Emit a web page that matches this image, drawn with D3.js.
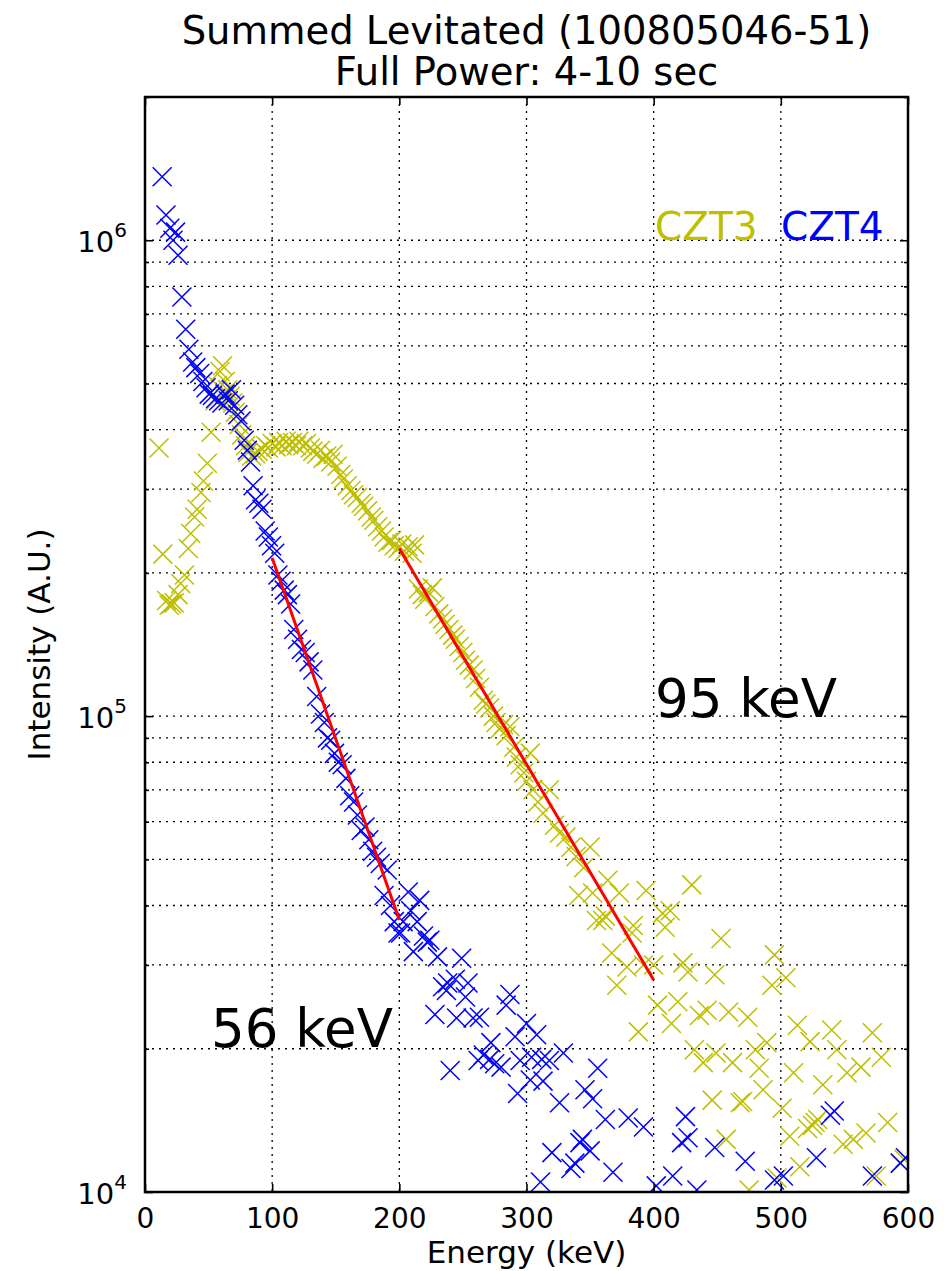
<!DOCTYPE html>
<html>
<head>
<meta charset="utf-8">
<script src="https://cdn.jsdelivr.net/npm/d3@7"></script>
<style>
  body { margin: 0; background: #fff; }
  text { font-family: "DejaVu Sans", sans-serif; }
</style>
</head>
<body>
<svg id="chart" width="944" height="1271"></svg>
<script>
// summed levitated spectra, CZT3 and CZT4, with exponential fits

// [energy keV, intensity]
var czt3 = [
  [11,3.66e5],[14,2.19e5],[17,1.75e5],[19,1.71e5],[21,1.72e5],[23,1.73e5],[26,1.80e5],[28,1.90e5],
  [31,1.98e5],[34,2.25e5],[36,2.42e5],[39,2.62e5],[41,2.72e5],[44,2.95e5],[46,3.12e5],[49,3.40e5],
  [52,3.95e5],[55,4.60e5],[57,4.95e5],[59,5.30e5],[61,5.45e5],[63,5.05e5],[65,4.85e5],[67,4.70e5],
  [69,4.55e5],[71,4.35e5],[74,4.10e5],[76,3.90e5],[79,3.70e5],[81,3.58e5],[84,3.52e5],[87,3.56e5],
  [89,3.60e5],[92,3.64e5],[95,3.70e5],[97,3.66e5],[100,3.74e5],[103,3.68e5],[105,3.76e5],[108,3.70e5],
  [111,3.78e5],[113,3.72e5],[116,3.76e5],[119,3.70e5],[121,3.78e5],[124,3.70e5],[127,3.74e5],[130,3.66e5],
  [132,3.60e5],[135,3.55e5],[138,3.62e5],[140,3.48e5],[143,3.52e5],[146,3.42e5],[148,3.55e5],[151,3.35e5],
  [154,3.22e5],[156,3.15e5],[159,3.05e5],[162,2.98e5],[164,2.92e5],[167,2.88e5],[170,2.80e5],[172,2.76e5],
  [175,2.70e5],[178,2.62e5],[180,2.58e5],[183,2.50e5],[186,2.45e5],[188,2.38e5],[191,2.32e5],[194,2.34e5],
  [196,2.28e5],[199,2.25e5],[202,2.30e5],[204,2.22e5],[207,2.27e5],[210,2.20e5],[212,2.29e5],
  [215,1.85e5],[218,1.80e5],[220,1.76e5],[223,1.82e5],[226,1.86e5],[228,1.70e5],[231,1.64e5],[234,1.60e5],
  [236,1.56e5],[239,1.52e5],[242,1.48e5],[244,1.45e5],[247,1.40e5],[250,1.36e5],[252,1.31e5],[255,1.28e5],
  [258,1.25e5],[260,1.20e5],[263,1.15e5],[266,1.08e5],[268,1.06e5],[271,1.04e5],[274,1.00e5],[276,9.7e4],
  [279,9.4e4],[282,9.6e4],[284,9.1e4],[287,9.5e4],[290,8.6e4],[292,8.2e4],[295,7.9e4],[298,7.6e4],
  [300,7.3e4],[303,8.36e4],[305,7.0e4],[309,6.6e4],[313,6.25e4],[318,7.0e4],[322,5.9e4],[326,5.68e4],
  [331,5.57e4],[335,5.3e4],[339,5.07e4],[341,4.2e4],[345,4.8e4],[350,5.31e4],[352,4.25e4],[355,3.72e4],
  [360,3.72e4],[362,3.8e4],[364,4.52e4],[367,3.18e4],[371,2.72e4],[373,4.25e4],[379,2.97e4],[383,3.5e4],
  [384,3.63e4],[388,2.17e4],[392,3.0e4],[394,4.3e4],[400,3.0e4],[403,2.47e4],[407,3.85e4],[409,3.6e4],
  [413,3.9e4],[414,2.26e4],[419,2.51e4],[423,3.03e4],[427,2.9e4],[430,4.42e4],[432,1.99e4],[436,2.35e4],
  [439,1.87e4],[442,2.41e4],[446,1.56e4],[448,2.86e4],[449,1.96e4],[453,3.41e4],[457,1.29e4],[459,2.39e4],
  [462,1.87e4],[468,1.54e4],[470,1.55e4],[474,2.33e4],[475,1.01e4],[480,1.99e4],[483,1.82e4],[486,1.64e4],
  [489,2.06e4],[493,2.72e4],[495,3.15e4],[497,1.07e4],[501,1.5e4],[504,2.82e4],[507,1.31e4],[510,1.78e4],
  [513,2.24e4],[515,1.13e4],[521,1.36e4],[523,2.07e4],[525,1.38e4],[527,1.4e4],[529,1.42e4],[533,1.68e4],
  [540,2.19e4],[544,1.99e4],[549,1.26e4],[552,1.78e4],[557,1.29e4],[563,1.83e4],[567,1.33e4],[572,2.16e4],
  [575,1.08e4],[579,1.92e4],[584,1.4e4],[594,1.15e4],[597,1.17e4]
];

var czt4 = [
  [13.5,1.36e6],[16.5,1.13e6],[19.5,1.06e6],[22,1.0e6],[24,1.04e6],[26,9.3e5],[29,7.6e5],[32,6.5e5],
  [34.5,5.9e5],[37.5,5.55e5],[40,5.4e5],[43,5.25e5],[45.5,5.05e5],[48,4.9e5],[50.5,4.75e5],[53,4.72e5],
  [55.5,4.65e5],[58,4.6e5],[60.5,4.55e5],[63,4.75e5],[65.5,4.6e5],[68,4.85e5],[70.5,4.5e5],[73,4.3e5],
  [75.5,4.17e5],[78,3.8e5],[80.5,3.62e5],[83,3.42e5],[85,3.05e5],[87,2.85e5],[89.5,2.8e5],[92,2.72e5],
  [94.5,2.45e5],[97,2.38e5],[99.5,2.28e5],[102,2.2e5],[104.5,1.98e5],[107,1.92e5],[109.5,1.84e5],[112,1.8e5],
  [114.5,1.72e5],[117,1.52e5],[120,1.45e5],[123,1.38e5],[126,1.36e5],[129,1.3e5],[132,1.25e5],[135,1.1e5],
  [138,1.01e5],[141,9.7e4],[143.5,9.0e4],[146,8.9e4],[149,8.35e4],[152,8.0e4],[155,7.9e4],[158,7.4e4],
  [161,6.8e4],[164,6.6e4],[167,6.2e4],[170,5.75e4],[173,5.85e4],[176,5.5e4],[179,5.2e4],[182,5.05e4],
  [185,4.9e4],[188,4.2e4],[190.5,4.75e4],[193,4.0e4],[196,3.7e4],[199,3.5e4],[201,3.5e4],[203,3.7e4],
  [207,4.27e4],[209,3.9e4],[211,3.2e4],[214,3.7e4],[216,4.1e4],[219,3.45e4],[222,3.35e4],[224,3.38e4],
  [228,2.36e4],[230,3.12e4],[234,2.7e4],[237,2.65e4],[238,2.75e4],[240,1.8e4],[244,2.8e4],[245,2.32e4],
  [249,3.1e4],[252,2.57e4],[254,2.75e4],[258,2.32e4],[262,1.89e4],[263,2.33e4],[266,1.94e4],[271,1.9e4],
  [272,2.06e4],[275,1.86e4],[280,1.83e4],[284,2.47e4],[287,2.6e4],[291,2.12e4],[293,1.61e4],[295,1.89e4],
  [300,2.26e4],[303,1.72e4],[304,1.92e4],[308,2.14e4],[311,1.05e4],[312,1.9e4],[313,1.71e4],[318,1.89e4],
  [320,1.21e4],[326,1.54e4],[329,1.96e4],[335,1.12e4],[338,1.15e4],[342,1.27e4],[344,1.29e4],[346,1.64e4],
  [350,1.22e4],[352,1.57e4],[356,1.82e4],[362,1.42e4],[368,1.1e4],[380,1.43e4],[392,1.37e4],[402,1.03e4],
  [415,1.08e4],[422,1.27e4],[425,1.44e4],[427,1.3e4],[434,1.01e4],[448,1.24e4],[472,1.16e4],[495,1.06e4],
  [502,1.08e4],[528,1.18e4],[539,1.45e4],[542,1.48e4],[572,1.08e4],[594,1.15e4],[598,1.18e4]
];

// fit line end points
var fit4 = [[100,2.15e5],[200,3.73e4]];
var fit3 = [[200,2.25e5],[400,2.79e4]];

var xTicks = [0,100,200,300,400,500,600];
var yMajor = [1e4,1e5,1e6];
var yMinor = [2e4,3e4,4e4,5e4,6e4,7e4,8e4,9e4,2e5,3e5,4e5,5e5,6e5,7e5,8e5,9e5,2e6];

var svg = d3.select("#chart"),
    margin = {top: 97, right: 36, bottom: 79, left: 145},
    width = 944 - margin.left - margin.right,
    height = 1271 - margin.top - margin.bottom,
    g = svg.append("g").attr("transform", "translate(" + margin.left + "," + margin.top + ")");

var x = d3.scaleLinear().domain([0,600]).range([0,width]);
var y = d3.scaleLog().domain([1e4,2e6]).range([height,0]);

svg.append("defs").append("clipPath").attr("id","clip")
  .append("rect").attr("width",width).attr("height",height);

// grid
g.append("g").selectAll("line").data(xTicks.slice(1,-1)).enter().append("line")
  .attr("x1",d=>x(d)).attr("x2",d=>x(d)).attr("y1",0).attr("y2",height)
  .attr("stroke","#000").attr("stroke-width",1.3).attr("stroke-dasharray","2,5");
g.append("g").selectAll("line").data(yMajor.concat(yMinor).filter(d=>d>1e4 && d<2e6)).enter().append("line")
  .attr("x1",0).attr("x2",width).attr("y1",d=>y(d)).attr("y2",d=>y(d))
  .attr("stroke","#000").attr("stroke-width",1.3).attr("stroke-dasharray","2,5");

// markers
function cross(sel, data, col) {
  var s = 9.5;
  sel.selectAll("path").data(data).enter().append("path")
    .attr("d", function(d) {
      var px = x(d[0]), py = y(d[1]);
      return "M"+(px-s)+","+(py-s)+"L"+(px+s)+","+(py+s)+"M"+(px-s)+","+(py+s)+"L"+(px+s)+","+(py-s);
    })
    .attr("stroke",col).attr("stroke-width",1.5).attr("fill","none");
}
var pts = g.append("g").attr("clip-path","url(#clip)");
cross(pts.append("g"), czt3, "#bfbf00");
cross(pts.append("g"), czt4, "#0000ff");

// fits
var line = d3.line().x(d=>x(d[0])).y(d=>y(d[1]));
[fit4, fit3].forEach(function(f) {
  g.append("path").datum(f).attr("d",line).attr("stroke","#ff0000").attr("stroke-width",3).attr("fill","none");
});

// axes, ticks inside
g.append("g").attr("transform","translate(0,"+height+")")
  .call(d3.axisBottom(x).tickValues(xTicks).tickSize(-8).tickPadding(16))
  .call(a => a.select(".domain").remove())
  .selectAll("text").attr("font-size","28px").attr("font-family","DejaVu Sans");
g.append("g")
  .call(d3.axisTop(x).tickValues(xTicks).tickSize(-8).tickFormat(""))
  .call(a => a.select(".domain").remove());
g.append("g").call(d3.axisLeft(y).tickValues(yMajor).tickSize(-8).tickFormat(""))
  .call(a => a.select(".domain").remove());
g.append("g").call(d3.axisLeft(y).tickValues(yMinor).tickSize(-4).tickFormat(""))
  .call(a => a.select(".domain").remove());
g.append("g").attr("transform","translate("+width+",0)")
  .call(d3.axisRight(y).tickValues(yMajor).tickSize(-8).tickFormat(""))
  .call(a => a.select(".domain").remove());
g.append("g").attr("transform","translate("+width+",0)")
  .call(d3.axisRight(y).tickValues(yMinor).tickSize(-4).tickFormat(""))
  .call(a => a.select(".domain").remove());
g.selectAll(".tick line").attr("stroke-width",1.6);

// y labels 10^n
var yl = g.append("g").selectAll("text").data(yMajor).enter().append("text")
  .attr("x",-18).attr("y",d=>y(d)+12).attr("text-anchor","end").attr("font-size","29px");
yl.append("tspan").text("10");
yl.append("tspan").attr("dy",-15).attr("font-size","20px").text(d=>Math.round(Math.log10(d)));

// frame
g.append("rect").attr("width",width).attr("height",height)
  .attr("fill","none").attr("stroke","#000").attr("stroke-width",2.5);

// titles and labels
svg.append("text").attr("x",margin.left+width/2).attr("y",44).attr("text-anchor","middle")
  .attr("font-size","38.5px").text("Summed Levitated (100805046-51)");
svg.append("text").attr("x",margin.left+width/2).attr("y",85).attr("text-anchor","middle")
  .attr("font-size","38.5px").text("Full Power: 4-10 sec");
svg.append("text").attr("x",margin.left+width/2).attr("y",1263).attr("text-anchor","middle")
  .attr("font-size","31px").text("Energy (keV)");
svg.append("text").attr("transform","translate(50,"+(margin.top+height/2)+") rotate(-90)")
  .attr("text-anchor","middle").attr("font-size","31px").text("Intensity (A.U.)");

// legend and annotations
svg.append("text").attr("x",655).attr("y",240).attr("font-size","39px").attr("fill","#bfbf00").text("CZT3");
svg.append("text").attr("x",781).attr("y",240).attr("font-size","39px").attr("fill","#0000ff").text("CZT4");
svg.append("text").attr("x",655).attr("y",717).attr("font-size","53px").text("95 keV");
svg.append("text").attr("x",211).attr("y",1047).attr("font-size","53px").text("56 keV");
</script>
</body>
</html>
